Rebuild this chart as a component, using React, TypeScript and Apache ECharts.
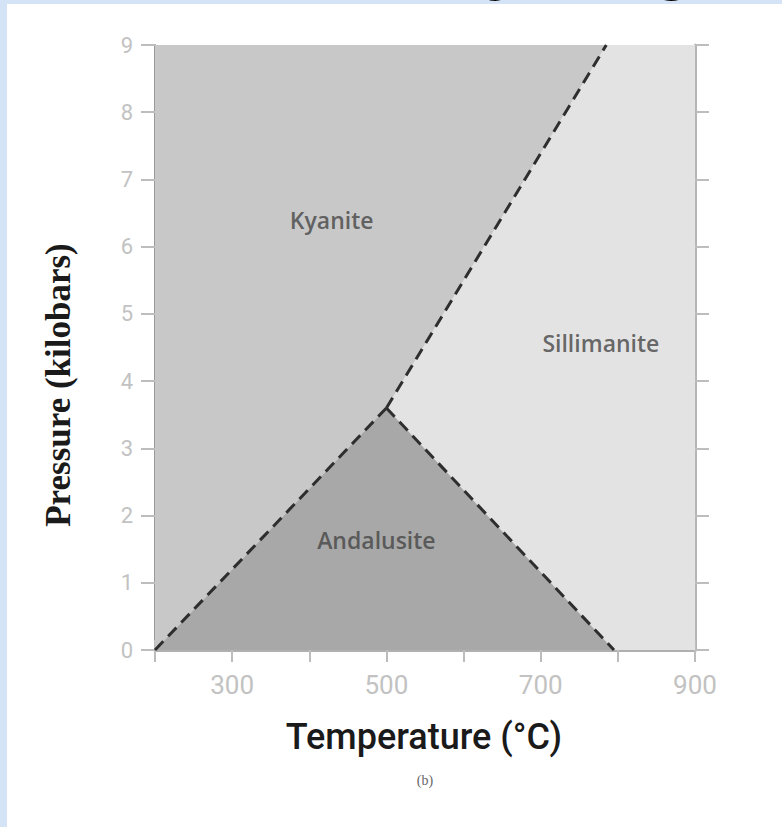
import React, { useEffect, useRef } from "react";
import * as echarts from "echarts";

// Axis tick labels
const temperatureTickLabels = [300, 500, 700, 900];
const pressureTickLabels = [0, 1, 2, 3, 4, 5, 6, 7, 8, 9];

// Phase boundaries (T in °C, P in kbar)
const triplePoint = [500, 3.6];
const kyaniteAndalusiteBoundary = [[200, 0], triplePoint];
const kyaniteSillimaniteBoundary = [triplePoint, [785, 9]];
const andalusiteSillimaniteBoundary = [triplePoint, [795, 0]];

// Phase fields (polygons) built from the boundaries and axis limits
const sillimaniteField = [triplePoint, [785, 9], [900, 9], [900, 0], [795, 0]];
const kyaniteField = [[200, 0], triplePoint, [785, 9], [200, 9]];
const andalusiteField = [[200, 0], triplePoint, [795, 0]];

const phaseNames = ["Sillimanite", "Kyanite", "Andalusite"];
const phaseLabelPositions = [
  [778, 4.57],
  [429, 6.4],
  [487, 1.64],
];

const fields = [sillimaniteField, kyaniteField, andalusiteField];
const fieldColors = ["#e3e3e4", "#c8c8c8", "#a8a8a8"];

export default function App() {
  const ref = useRef<HTMLDivElement>(null);

  useEffect(() => {
    if (!ref.current) return;
    const chart = echarts.init(ref.current, null, { renderer: "svg" });
    const tickLine = { color: "#bdbdbd", width: 2 };
    const dashed = { color: "#2e2e2e", width: 3, type: [12, 7] as any };

    chart.setOption({
      animation: false,
      backgroundColor: "#ffffff",
      grid: { left: 155, right: 87, top: 45, bottom: 177 },
      xAxis: [
        {
          type: "value",
          position: "bottom",
          min: 200,
          max: 900,
          interval: 100,
          axisLine: { show: true, lineStyle: { color: "#a5a5a5", width: 2 } },
          axisTick: { show: true, inside: false, length: 12, lineStyle: tickLine },
          axisLabel: {
            margin: 22,
            color: "#c2c2c2",
            fontSize: 26,
            fontFamily: "Roboto",
            formatter: (v: number) => (temperatureTickLabels.includes(v) ? String(v) : ""),
          },
          splitLine: { show: false },
        },
        {
          type: "value",
          position: "top",
          min: 200,
          max: 900,
          interval: 100,
          axisLine: { show: true, lineStyle: { color: "#b0b0b0", width: 3 } },
          axisTick: { show: true, length: 10, lineStyle: tickLine },
          axisLabel: { show: false },
          splitLine: { show: false },
        },
      ],
      yAxis: [
        {
          type: "value",
          position: "left",
          min: 0,
          max: 9,
          interval: 1,
          axisLine: { show: true, lineStyle: { color: "#9a9a9a", width: 2 } },
          axisTick: { show: true, length: 14, lineStyle: tickLine },
          axisLabel: {
            margin: 22,
            color: "#c2c2c2",
            fontSize: 22,
            fontFamily: "Roboto",
            formatter: (v: number) => (pressureTickLabels.includes(v) ? String(v) : ""),
          },
          splitLine: { show: false },
        },
        {
          type: "value",
          position: "right",
          min: 0,
          max: 9,
          interval: 1,
          axisLine: { show: true, lineStyle: { color: "#b5b5b5", width: 3 } },
          axisTick: { show: true, length: 14, lineStyle: tickLine },
          axisLabel: { show: false },
          splitLine: { show: false },
        },
      ],
      series: [
        {
          type: "custom",
          xAxisIndex: 0,
          yAxisIndex: 0,
          z: 1,
          clip: true,
          data: fields.map((_, i) => [200, 0, i]),
          renderItem: (params: any, api: any) => {
            const idx = api.value(2);
            return {
              type: "polygon",
              shape: { points: fields[idx].map((p) => api.coord(p)) },
              style: { fill: fieldColors[idx] },
            };
          },
        },
        {
          type: "line",
          z: 3,
          data: kyaniteAndalusiteBoundary,
          symbol: "none",
          lineStyle: dashed,
        },
        {
          type: "line",
          z: 3,
          data: kyaniteSillimaniteBoundary,
          symbol: "none",
          lineStyle: dashed,
        },
        {
          type: "line",
          z: 3,
          data: andalusiteSillimaniteBoundary,
          symbol: "none",
          lineStyle: dashed,
        },
        {
          type: "scatter",
          z: 4,
          symbolSize: 0,
          data: phaseNames.map((n, i) => ({ name: n, value: phaseLabelPositions[i] })),
          label: {
            show: true,
            position: "inside",
            formatter: "{b}",
            color: "#454545",
            fontSize: 23,
            fontWeight: 600,
            fontFamily: "Open Sans",
          },
        },
      ],
      graphic: [
        { type: "rect", left: 0, top: 0, shape: { width: 7, height: 827 }, style: { fill: "#d4e3f5" } },
        { type: "rect", left: 0, top: 0, shape: { width: 782, height: 4 }, style: { fill: "#d4e3f5" } },
        {
          type: "text",
          x: 256,
          y: -37,
          style: {
            text: "Stability Diagram",
            fill: "#000000",
            font: "bold 69px 'Liberation Sans'",
            textAlign: "left",
            textVerticalAlign: "middle",
          },
        },
        {
          type: "text",
          x: 424,
          y: 737,
          style: {
            text: "Temperature (°C)",
            fill: "#1a1a1a",
            font: "500 36px Roboto",
            textAlign: "center",
            textVerticalAlign: "middle",
          },
        },
        {
          type: "text",
          x: 425,
          y: 780,
          style: {
            text: "(b)",
            fill: "#666666",
            font: "14px 'Liberation Serif'",
            textAlign: "center",
            textVerticalAlign: "middle",
          },
        },
        {
          type: "text",
          x: 58,
          y: 385,
          rotation: Math.PI / 2,
          style: {
            text: "Pressure (kilobars)",
            fill: "#1a1a1a",
            font: "bold 35px 'Liberation Serif'",
            textAlign: "center",
            textVerticalAlign: "middle",
          },
        },
      ],
    });
    return () => chart.dispose();
  }, []);

  return (
    <div
      ref={ref}
      style={{ position: "absolute", left: 0, top: 0, width: 782, height: 827 }}
    />
  );
}
